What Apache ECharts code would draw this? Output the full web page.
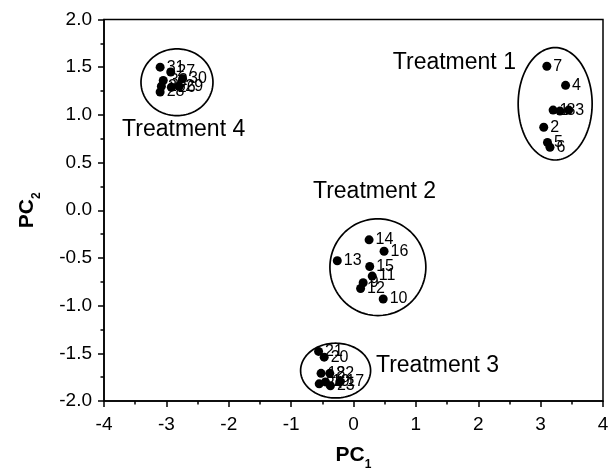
<!DOCTYPE html>
<html><head><meta charset="utf-8">
<script src="https://cdn.jsdelivr.net/npm/echarts@6/dist/echarts.min.js"></script>
<style>html,body{margin:0;padding:0;background:#fff}#c{width:609px;height:472px}</style>
</head><body><div id="c"></div>
<script>
// Sample numbers and PC scores
const pointIds = [1,2,3,4,5,6,7,8,9,10,11,12,13,14,15,16,17,18,19,20,21,22,23,24,25,26,27,28,29,30,31,32];
const pc1 = [3.20,3.05,3.45,3.40,3.11,3.15,3.10,3.31, 0.155,0.476,0.30,0.114,-0.26,0.25,0.26,0.49, -0.22,-0.52,-0.45,-0.47,-0.56,-0.38,-0.37,-0.55, -3.08,-2.92,-2.93,-3.10,-2.80,-2.74,-3.10,-3.05];
const pc2 = [1.05,0.87,1.05,1.31,0.71,0.66,1.51,1.04, -0.76,-0.93,-0.69,-0.82,-0.53,-0.31,-0.59,-0.43, -1.80,-1.71,-1.80,-1.54,-1.48,-1.71,-1.84,-1.82, 1.30,1.29,1.45,1.24,1.30,1.38,1.50,1.36];
// Treatment group ellipses (centre and semi-axes in data units)
const groupNames = ['Treatment 1','Treatment 2','Treatment 3','Treatment 4'];
const ellipseCx = [3.233, 0.391, -0.287, -2.83];
const ellipseCy = [1.116, -0.597, -1.681, 1.342];
const ellipseRx = [0.593, 0.769, 0.561, 0.577];
const ellipseRy = [0.589, 0.507, 0.287, 0.350];
// Group label anchors (left edge, vertical middle)
const groupLabelX = [0.63, -0.65, 0.36, -3.71];
const groupLabelY = [1.55, 0.19, -1.63, 0.84];
// Axis ticks
const xTicks = [-4,-3,-2,-1,0,1,2,3,4];
const yTicks = [-2.0,-1.5,-1.0,-0.5,0.0,0.5,1.0,1.5,2.0];

const FONT = 'Liberation Sans, Arial, Helvetica, sans-serif';
const pts = pointIds.map((id,i)=>[pc1[i], pc2[i], id]);
const ell = groupNames.map((n,i)=>[ellipseCx[i], ellipseCy[i], ellipseRx[i], ellipseRy[i]]);
const glabels = groupNames.map((n,i)=>[groupLabelX[i], groupLabelY[i], n]);

const chart = echarts.init(document.getElementById('c'), null, {renderer:'canvas'});
const axisCommon = {
  axisLine:{show:true, onZero:false, lineStyle:{color:'#000', width:1.5}},
  axisTick:{show:true, inside:false, length:6, lineStyle:{color:'#000', width:1.5}},
  minorTick:{show:true, splitNumber:2, length:3.5, lineStyle:{color:'#000', width:1.5}},
  splitLine:{show:false},
  axisLabel:{color:'#000', fontSize:19, fontFamily:FONT},
};
const nameRich = {
  p:{fontSize:21, fontWeight:'bold', fontFamily:FONT, color:'#000', lineHeight:26, verticalAlign:'top'},
  s:{fontSize:12, fontWeight:'bold', fontFamily:FONT, color:'#000', lineHeight:8, verticalAlign:'bottom'}
};
chart.setOption({
  animation:false,
  backgroundColor:'#fff',
  grid:{left:104, right:6, top:19.5, bottom:71, containLabel:false, outerBoundsMode:'none', show:true, borderColor:'#000', borderWidth:1.5},
  xAxis:Object.assign({}, axisCommon, {
    type:'value', min:xTicks[0], max:xTicks[xTicks.length-1], interval:1,
    name:'{p|PC}{s|1}', nameLocation:'middle', nameGap:44,
    nameTextStyle:{rich:nameRich},
    axisLabel:Object.assign({}, axisCommon.axisLabel, {margin:14, formatter:v=>String(v)})
  }),
  yAxis:Object.assign({}, axisCommon, {
    type:'value', min:yTicks[0], max:yTicks[yTicks.length-1], interval:0.5,
    name:'{p|PC}{s|2}', nameLocation:'middle', nameGap:61, nameRotate:90,
    nameTextStyle:{rich:nameRich},
    axisLabel:Object.assign({}, axisCommon.axisLabel, {margin:12, formatter:v=>v.toFixed(1)})
  }),
  series:[
    {
      type:'custom', data:ell, silent:true, z:1,
      renderItem:function(params, api){
        const cx=api.value(0), cy=api.value(1), rx=api.value(2), ry=api.value(3);
        const p=[];
        for(let k=0;k<=120;k++){
          const a=k/120*Math.PI*2;
          p.push(api.coord([cx+rx*Math.cos(a), cy+ry*Math.sin(a)]));
        }
        return {type:'polygon', shape:{points:p}, style:{fill:null, stroke:'#000', lineWidth:1.7}};
      }
    },
    {
      type:'scatter', data:pts, symbol:'circle', symbolSize:9, z:3,
      itemStyle:{color:'#000', opacity:1},
      label:{show:true, position:'right', distance:2, formatter:p=>String(p.value[2]), color:'#000', fontSize:16, fontFamily:FONT}
    },
    {
      type:'custom', data:glabels, silent:true, z:4,
      renderItem:function(params, api){
        const c=api.coord([api.value(0), api.value(1)]);
        return {type:'text', x:c[0], y:c[1], style:{text:glabels[params.dataIndex][2], fill:'#000', font:'23px '+FONT, align:'left', verticalAlign:'middle'}};
      }
    }
  ]
});
</script></body></html>
